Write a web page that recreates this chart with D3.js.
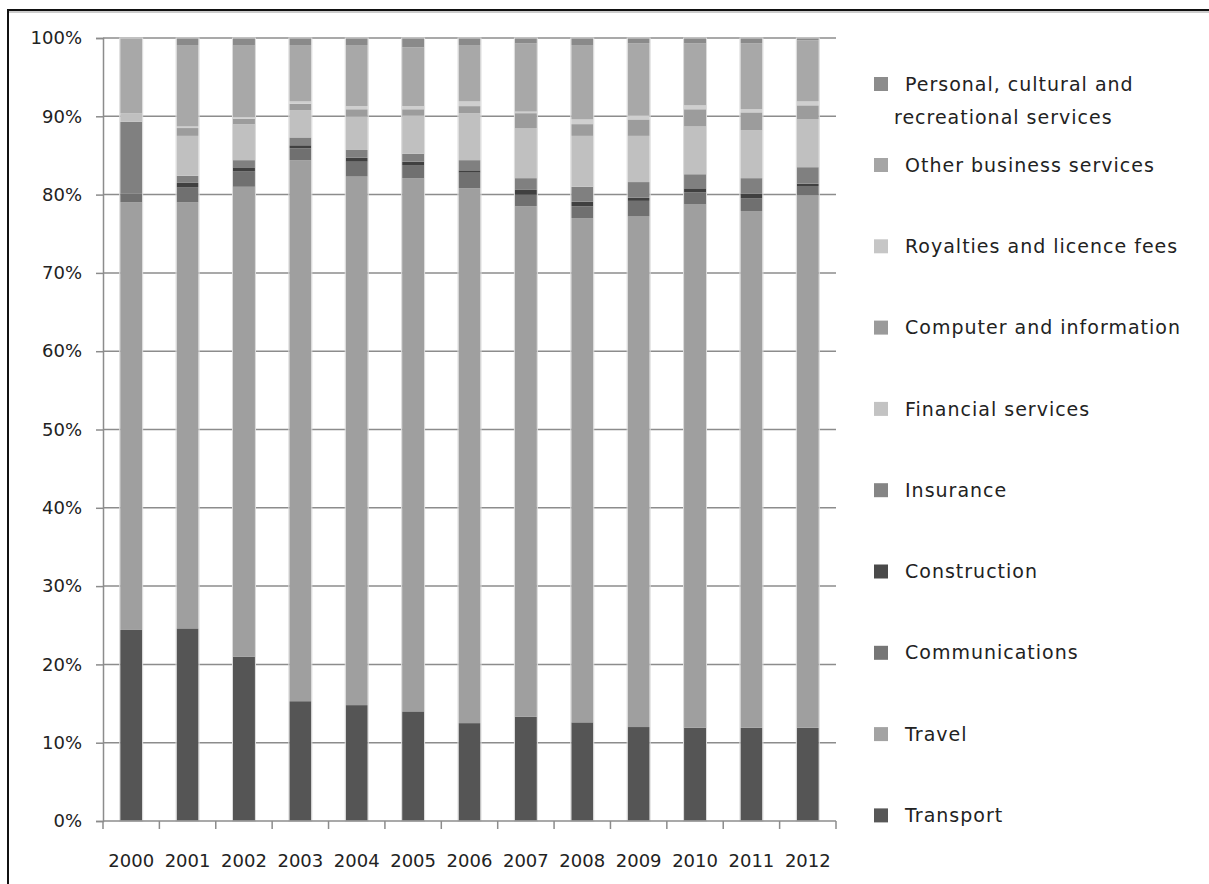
<!DOCTYPE html>
<html>
<head>
<meta charset="utf-8">
<script src="https://cdn.jsdelivr.net/npm/d3@7"></script>
<style>
    html, body { margin: 0; padding: 0; background: #fff; }
    svg { display: block; }
    text { font-family: "DejaVu Sans", Verdana, sans-serif; fill: #222; }
</style>
</head>
<body>
<div id="chart"></div>
<script>
// Data (share of services, %)
const years = ['2000', '2001', '2002', '2003', '2004', '2005', '2006', '2007', '2008', '2009', '2010', '2011', '2012'];

const transport      = [24.4, 24.6, 21.0, 15.3, 14.8, 14.0, 12.5, 13.3, 12.6, 12.0, 11.9, 11.9, 11.9];
const travel         = [54.6, 54.4, 60.0, 69.1, 67.5, 68.1, 68.3, 65.2, 64.4, 65.2, 66.9, 66.0, 68.0];
const communications = [1.1, 1.9, 2.0, 1.5, 1.9, 1.6, 2.0, 1.5, 1.5, 2.0, 1.5, 1.6, 1.2];
const construction   = [0, 0.6, 0.4, 0.4, 0.5, 0.5, 0.3, 0.6, 0.6, 0.4, 0.5, 0.6, 0.3];
const insurance      = [9.2, 0.9, 1.0, 1.0, 1.0, 1.0, 1.3, 1.5, 1.9, 2.0, 1.8, 2.0, 2.1];
const financial      = [1.1, 5.1, 4.6, 3.5, 4.3, 4.9, 6.0, 6.4, 6.5, 5.9, 6.1, 6.1, 6.1];
const computer       = [0, 1.0, 0.7, 0.8, 0.9, 0.8, 0.9, 1.9, 1.5, 2.1, 2.2, 2.3, 1.8];
const royalties      = [0, 0.2, 0.2, 0.3, 0.4, 0.4, 0.6, 0.2, 0.6, 0.5, 0.5, 0.4, 0.5];
const otherBusiness  = [9.6, 10.4, 9.2, 7.2, 7.8, 7.5, 7.2, 8.7, 9.5, 9.2, 7.9, 8.4, 7.8];
const personal       = [0, 0.9, 0.9, 0.9, 0.9, 1.2, 0.9, 0.7, 0.9, 0.7, 0.7, 0.7, 0.3];

const yTicks = [0, 0.1, 0.2, 0.3, 0.4, 0.5, 0.6, 0.7, 0.8, 0.9, 1.0];

// stack order bottom -> top
const series = [
    { key: 'Transport', values: transport, color: '#555555', legend: '#575757' },
    { key: 'Travel', values: travel, color: '#9f9f9f', legend: '#a3a3a3' },
    { key: 'Communications', values: communications, color: '#707070', legend: '#767676' },
    { key: 'Construction', values: construction, color: '#404040', legend: '#4a4a4a' },
    { key: 'Insurance', values: insurance, color: '#808080', legend: '#858585' },
    { key: 'Financial services', values: financial, color: '#c0c0c0', legend: '#c3c3c3' },
    { key: 'Computer and information', values: computer, color: '#9c9c9c', legend: '#9a9a9a' },
    { key: 'Royalties and licence fees', values: royalties, color: '#cfcfcf', legend: '#c6c6c6' },
    { key: 'Other business services', values: otherBusiness, color: '#a8a8a8', legend: '#a5a5a5' },
    { key: 'Personal, cultural and recreational services', values: personal, color: '#8a8a8a', legend: '#8c8c8c' }
];

const width = 1209;
const height = 884;
const plot = { left: 103, right: 836, top: 38, bottom: 821 };

const svg = d3.select('#chart')
    .append('svg')
    .attr('width', width)
    .attr('height', height);

// outer frame (top and left edge only are visible)
svg.append('path')
    .attr('d', `M8,${height} V10 H${width}`)
    .attr('fill', 'none')
    .attr('stroke', '#111')
    .attr('stroke-width', 2);
svg.append('line')
    .attr('x1', 9).attr('x2', width).attr('y1', 12).attr('y2', 12)
    .attr('stroke', '#999').attr('stroke-width', 1);

const rows = years.map((year, i) => {
    const row = { year };
    series.forEach(s => { row[s.key] = s.values[i]; });
    return row;
});

const stack = d3.stack()
    .keys(series.map(s => s.key))
    .offset(d3.stackOffsetExpand);
const stacked = stack(rows);

const x = d3.scaleBand()
    .domain(years)
    .range([plot.left, plot.right])
    .paddingInner(0.61)
    .paddingOuter(0.305);

const y = d3.scaleLinear()
    .domain([0, 1])
    .range([plot.bottom, plot.top]);

// gridlines
svg.append('g')
    .attr('class', 'grid')
    .selectAll('line')
    .data(yTicks.filter(t => t > 0))
    .join('line')
    .attr('x1', plot.left)
    .attr('x2', plot.right)
    .attr('y1', d => y(d))
    .attr('y2', d => y(d))
    .attr('stroke', '#8c8c8c')
    .attr('stroke-width', 1.5);

// bars
svg.append('g')
    .attr('class', 'bars')
    .selectAll('g')
    .data(stacked)
    .join('g')
    .attr('fill', (d, i) => series[i].color)
    .selectAll('rect')
    .data(d => d)
    .join('rect')
    .attr('x', d => x(d.data.year))
    .attr('width', x.bandwidth())
    .attr('y', d => y(d[1]))
    .attr('height', d => Math.max(0, y(d[0]) - y(d[1])));

// bar side edges, light like the reference
svg.append('g')
    .selectAll('rect')
    .data(years)
    .join('rect')
    .attr('x', d => x(d) - 0.5)
    .attr('width', x.bandwidth() + 1)
    .attr('y', y(1))
    .attr('height', y(0) - y(1))
    .attr('fill', 'none')
    .attr('stroke', '#dadada')
    .attr('stroke-width', 1);

// y axis
const yAxis = svg.append('g')
    .attr('transform', `translate(${plot.left},0)`)
    .call(d3.axisLeft(y).tickValues(yTicks).tickFormat(d3.format('.0%')).tickSize(7).tickPadding(14));
yAxis.select('.domain').attr('stroke', '#8c8c8c').attr('stroke-width', 1.5);
yAxis.selectAll('.tick line').attr('stroke', '#8c8c8c').attr('stroke-width', 1.5);
yAxis.selectAll('.tick text')
    .attr('font-size', 18)
    .attr('font-family', '"DejaVu Sans", Verdana, sans-serif')
    .attr('fill', '#222');

// x axis: ticks sit between categories
const xAxis = svg.append('g')
    .attr('transform', `translate(0,${plot.bottom})`);
xAxis.append('line')
    .attr('x1', plot.left).attr('x2', plot.right)
    .attr('stroke', '#8c8c8c').attr('stroke-width', 1.5);
const boundaries = years.map(d => x(d) - x.step() * x.paddingInner() / 2);
boundaries.push(plot.right);
xAxis.selectAll('line.tick')
    .data(boundaries)
    .join('line')
    .attr('class', 'tick')
    .attr('x1', d => d).attr('x2', d => d)
    .attr('y1', 0).attr('y2', 8)
    .attr('stroke', '#8c8c8c').attr('stroke-width', 1.5);
xAxis.selectAll('text')
    .data(years)
    .join('text')
    .attr('x', d => x(d) + x.bandwidth() / 2)
    .attr('y', 46)
    .attr('text-anchor', 'middle')
    .attr('font-size', 18)
    .text(d => d);

// legend, top item first
const legendItems = series.slice().reverse();
const legend = svg.append('g')
    .attr('class', 'legend')
    .selectAll('g')
    .data(legendItems)
    .join('g')
    .attr('transform', (d, i) => `translate(874,${i === 0 ? 84 : 165 + (i - 1) * 81.3})`);

legend.append('rect')
    .attr('x', 0)
    .attr('y', -7)
    .attr('width', 14)
    .attr('height', 14)
    .attr('fill', d => d.legend);

legend.append('text')
    .attr('x', 31)
    .attr('y', 0)
    .attr('dy', '0.35em')
    .attr('font-size', 19)
    .attr('letter-spacing', 1)
    .text(d => d.key.startsWith('Personal') ? 'Personal, cultural and' : d.key);

legend.filter(d => d.key.startsWith('Personal'))
    .append('text')
    .attr('x', 20)
    .attr('y', 33)
    .attr('dy', '0.35em')
    .attr('font-size', 19)
    .attr('letter-spacing', 1)
    .text('recreational services');
</script>
</body>
</html>
